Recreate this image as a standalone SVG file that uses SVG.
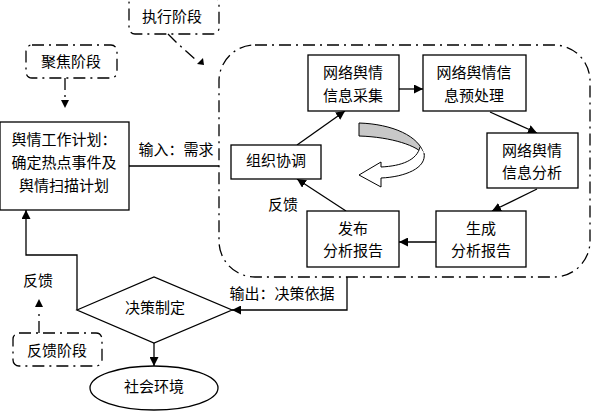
<svg xmlns="http://www.w3.org/2000/svg" width="591" height="411" viewBox="0 0 591 411">
<defs>
<style>
text{font-family:"Liberation Serif","Noto Sans CJK SC",serif;font-size:15px;fill:#000;text-anchor:middle;dominant-baseline:central}
.box{fill:#fff;stroke:#000;stroke-width:1.3}
.dd{fill:none;stroke:#000;stroke-width:1.3;stroke-dasharray:12,5,2,5}
.ln{fill:none;stroke:#000;stroke-width:1.3}
</style>
<marker id="ah" viewBox="0 0 10 10" refX="10" refY="5" markerWidth="9" markerHeight="9" markerUnits="userSpaceOnUse" orient="auto">
<path d="M0,0 L10,5 L0,10 Z" fill="#000"/>
</marker>
</defs>
<rect width="591" height="411" fill="#fff"/>
<g id="boundary">
<rect x="219" y="45" width="371" height="232" rx="36" ry="36" class="dd"/>
</g>
<g id="connectors">
<line x1="129" y1="166" x2="219" y2="166" class="ln"/>
<line x1="399" y1="89" x2="423" y2="89" class="ln" marker-end="url(#ah)"/>
<line x1="490" y1="112" x2="537" y2="133" class="ln" marker-end="url(#ah)"/>
<line x1="537" y1="189" x2="492" y2="211" class="ln" marker-end="url(#ah)"/>
<line x1="436" y1="242" x2="399" y2="242" class="ln" marker-end="url(#ah)"/>
<line x1="346" y1="211" x2="297" y2="179" class="ln" marker-end="url(#ah)"/>
<line x1="297" y1="145" x2="345" y2="111" class="ln" marker-end="url(#ah)"/>
<polyline points="347,277 347,310 232,310" class="ln" marker-end="url(#ah)"/>
<polyline points="77,310 77,255 26,255 26,210" class="ln" marker-end="url(#ah)"/>
<line x1="154" y1="343" x2="154" y2="366" class="ln" marker-end="url(#ah)"/>
<line x1="65" y1="78" x2="65" y2="98" class="dd"/>
<polygon points="61,100 69,100 65,108" fill="#000"/>
<polyline points="168,34 177,43 196,60" class="dd"/>
<polygon points="197,64 203,58 204,65" fill="#000"/>
<line x1="39" y1="333" x2="39" y2="312" class="dd"/>
<polygon points="35,307 43,307 39,299" fill="#000"/>
</g>
<g id="cycle-arrow">
<path d="M359,123 C392,124 420,136 424,155 C418,146 392,137 359,136 Z" fill="#c8c8c8" stroke="#000" stroke-width="1"/>
<path d="M424,153 C427,168 405,177 381,178 L381,187 L359,175 L381,162 L381,167 C402,166 417,160 420,147" fill="#fff" stroke="#000" stroke-width="1"/>
</g>
<g id="exec-stage">
<rect x="129" y="-3" width="90" height="37" rx="6" class="dd"/>
<text x="172" y="17">执行阶段</text>
</g>
<g id="focus-stage">
<rect x="26" y="45" width="91" height="33" rx="6" class="dd"/>
<text x="71" y="62">聚焦阶段</text>
</g>
<g id="feedback-stage">
<rect x="13" y="333" width="89" height="33" rx="6" class="dd"/>
<text x="57" y="351">反馈阶段</text>
</g>
<g id="plan">
<rect x="0" y="122" width="129" height="88" class="box"/>
<text x="64" y="140">舆情工作计划：</text>
<text x="64" y="163">确定热点事件及</text>
<text x="64" y="186">舆情扫描计划</text>
</g>
<g id="collect">
<rect x="308" y="55" width="91" height="56" class="box"/>
<text x="353" y="73">网络舆情</text>
<text x="353" y="96">信息采集</text>
</g>
<g id="preprocess">
<rect x="423" y="55" width="103" height="56" class="box"/>
<text x="474" y="73">网络舆情信</text>
<text x="474" y="96">息预处理</text>
</g>
<g id="analyze">
<rect x="487" y="133" width="91" height="55" class="box"/>
<text x="532" y="151">网络舆情</text>
<text x="532" y="173">信息分析</text>
</g>
<g id="generate">
<rect x="436" y="211" width="90" height="56" class="box"/>
<text x="481" y="229">生成</text>
<text x="481" y="251">分析报告</text>
</g>
<g id="publish">
<rect x="307" y="211" width="92" height="56" class="box"/>
<text x="353" y="229">发布</text>
<text x="353" y="251">分析报告</text>
</g>
<g id="coordinate">
<rect x="231" y="145" width="90" height="34" class="box"/>
<text x="276" y="161">组织协调</text>
</g>
<g id="decision">
<polygon points="77,310 154,277 232,310 154,343" class="box"/>
<text x="155" y="308">决策制定</text>
</g>
<g id="society">
<ellipse cx="154" cy="388" rx="64" ry="22" class="box"/>
<text x="154" y="387">社会环境</text>
</g>
<g id="labels">
<text x="176" y="150">输入：需求</text>
<text x="283" y="205">反馈</text>
<text x="282" y="294">输出：决策依据</text>
<text x="38" y="281">反馈</text>
</g>
</svg>
